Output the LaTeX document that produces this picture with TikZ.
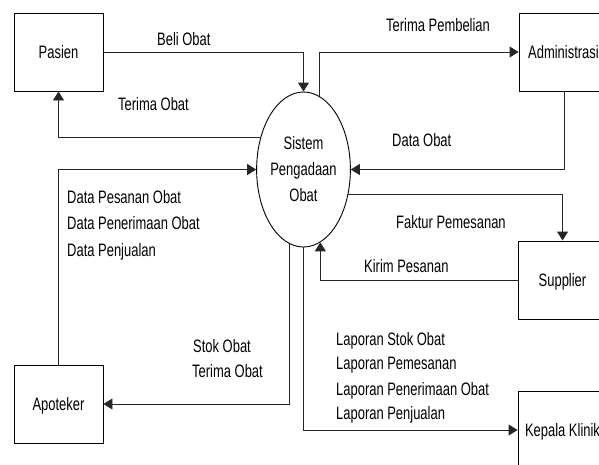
\documentclass[tikz,border=0pt]{standalone}
\usepackage{fontspec}
\setmainfont[FakeStretch=0.72]{Liberation Sans}
\usetikzlibrary{arrows.meta,shapes.geometric,calc}
\begin{document}
\begin{tikzpicture}[x=1pt,y=-1pt,
  every node/.style={font=\fontsize{18}{26}\selectfont},
  entity/.style={draw=black, line width=0.9pt, minimum width=89pt, minimum height=78pt, inner sep=0pt, text height=13pt, text depth=0pt},
  proc/.style={draw=black, line width=0.9pt, ellipse, minimum width=89pt, minimum height=155pt, inner sep=0pt, align=center},
  flow/.style={draw=black!85, line width=0.9pt, -{Triangle[length=9pt,width=11pt]}},
  lbl/.style={anchor=base west, inner sep=0pt}]
\useasboundingbox (0,0) rectangle (599,464);
\clip (0,0) rectangle (599,464);
% entities
\node[entity] (pasien) at (58.5,52) {Pasien};
\node[entity] (admin) at (563.5,52) {Administrasi};
\node[entity] (supplier) at (562.5,280) {Supplier};
\node[entity] (kepala) at (562.5,430) {Kepala Klinik};
\node[entity] (apoteker) at (58.5,404) {Apoteker};
\node[proc] (sys) at (303.5,169.5) {Sistem\\Pengadaan\\Obat};
% helper coordinates
\coordinate (adminout) at ($(admin.south west)+(45.5,0)$);
\coordinate (supin) at ($(supplier.north west)+(45,0)$);
% flows
\draw[flow] (pasien.east) -| (sys.north);
\draw[flow] (sys.78.8) |- (admin.west);
\draw[flow] (sys.143.3) -| (pasien.south);
\draw[flow] (adminout) |- (sys.east);
\draw[flow] (apoteker.north) |- (sys.west);
\draw[flow] (sys.-29) -| (supin);
\draw[flow] (supplier.west) -| (sys.-77.95);
\draw[flow] (sys.259.65) |- (apoteker.east);
\draw[flow] (sys.south) |- (kepala.west);
% labels
\node[lbl] (t1) at (157,45) {Beli Obat};
\node[lbl] (t2) at (118,110) {Terima Obat};
\node[lbl] (t3) at (386,31) {Terima Pembelian};
\node[lbl] (t4) at (392,146) {Data Obat};
\node[lbl] (t5) at (67,203) {Data Pesanan Obat};
\node[lbl] (t6) at (67,229) {Data Penerimaan Obat};
\node[lbl] (t7) at (67,256) {Data Penjualan};
\node[lbl] (t8) at (396,228) {Faktur Pemesanan};
\node[lbl] (t9) at (364,272) {Kirim Pesanan};
\node[lbl] (t10) at (193,352) {Stok Obat};
\node[lbl] (t11) at (192,377) {Terima Obat};
\node[lbl] (t12) at (336,345) {Laporan Stok Obat};
\node[lbl] (t13) at (336,369) {Laporan Pemesanan};
\node[lbl] (t14) at (336,395) {Laporan Penerimaan Obat};
\node[lbl] (t15) at (336,419) {Laporan Penjualan};
\end{tikzpicture}
\end{document}
